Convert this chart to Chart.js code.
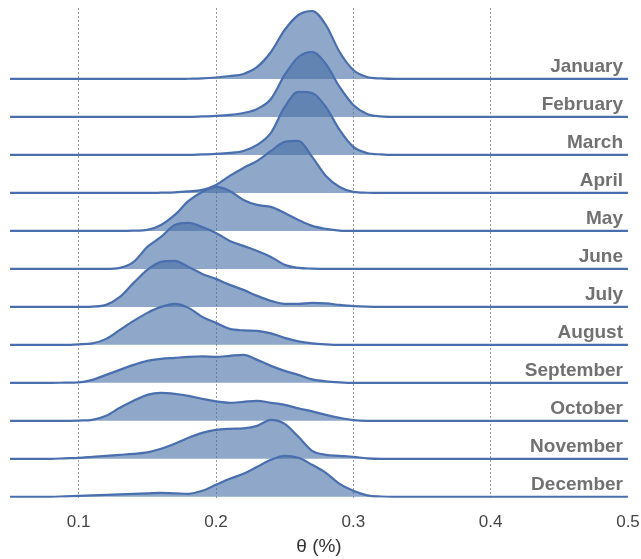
<!DOCTYPE html>
<html>
<head>
<meta charset="utf-8">
<script src="https://cdn.jsdelivr.net/npm/chart.js@4.4.1/dist/chart.umd.min.js"></script>
<style>
  html, body { margin: 0; padding: 0; background: #fff; }
  #wrap { width: 641px; height: 559px; }
</style>
</head>
<body>
<div id="wrap"><canvas id="chart" width="641" height="559"></canvas></div>
<script>
const months = ['January', 'February', 'March', 'April', 'May', 'June',
  'July', 'August', 'September', 'October', 'November', 'December'];

// theta values where the densities are read
const xValues = [0.05, 0.06, 0.07, 0.08, 0.09, 0.10, 0.11, 0.12, 0.13, 0.14,
  0.15, 0.16, 0.17, 0.18, 0.19, 0.20, 0.21, 0.22, 0.23, 0.24,
  0.25, 0.26, 0.27, 0.28, 0.29, 0.30, 0.31, 0.32, 0.33, 0.34,
  0.35, 0.36, 0.37, 0.50];
const xTicks = [0.1, 0.2, 0.3, 0.4, 0.5];

// density per month (same order as xValues)
const january   = [0,0,0,0,0, 0,0,0,0,0, 0,0,0,0.2,0.5, 1.5,3,5,12,27, 49,64,68,54,27, 9,2,0.5,0,0, 0,0,0,0];
const february  = [0,0,0,0,0, 0,0,0,0,0, 0,0,0,0,0.5, 1,2,4,8,18, 42,60,65,53,30, 12,3,0.5,0,0, 0,0,0,0];
const march     = [0,0,0,0,0, 0,0,0,0,0, 0,0,0,0,0.5, 1,2,4,10,22, 48,63,62,48,25, 8,2,0.5,0,0, 0,0,0,0];
const april     = [0,0,0,0,0, 0,0,0,0,0, 0,0.2,0.5,1.5,3, 8,17,25,32,42, 51,52,36,17,6, 1,0.2,0,0,0, 0,0,0,0];
const may       = [0,0,0,0,0, 0,0,0,0,0.2, 1,6,16,30,39, 44,40,31,26,24, 18,11,5,2,0.3, 0,0,0,0,0, 0,0,0,0];
const june      = [0,0,0,0,0, 0,0,0,1,7, 22,32,44,46,42, 36,28,23,18,12, 4,1,0.3,0,0, 0,0,0,0,0, 0,0,0,0];
const july      = [0,0,0,0,0, 0,0.3,2,10,24, 37,45,46,40,33, 28,22,17,11,6, 3,3,4,3.5,2, 0.8,0.2,0,0,0, 0,0,0,0];
const august    = [0,0,0,0,0, 0.5,1.5,6,15,24, 32,38,41,37,28, 22,16,14.5,14,11.5, 7,3.5,1.5,0.5,0, 0,0,0,0,0, 0,0,0,0];
const september = [0,0,0,0,0.2, 0.5,3,8,13,18, 22,24,25,26,26.5, 26,27,28,23,17, 12,8,3.5,1.5,0.5, 0,0,0,0,0, 0,0,0,0];
const october   = [0,0,0,0,0, 0.3,1,5,13,20, 26,28,27,25,22, 19.5,18,19,20,18, 16,12.5,9.5,6,3, 0.7,0,0,0,0, 0,0,0,0];
const november  = [0,0,0,0,0.5, 1,2,3,4,5, 6.5,10,15,21,26, 29,30,30.5,33,39, 35,22,8,4,3, 2,0.5,0,0,0, 0,0,0,0];
const december  = [0,0,0,0,0.5, 1,1.5,2,2.5,3, 3.5,4,3.5,3,6, 12,18,23,30,37, 41,39,32,24,13, 6,1.5,0.3,0,0, 0,0,0,0];

const densities = [january, february, march, april, may, june,
  july, august, september, october, november, december];

const rowGap = 38;
const lineColor = 'rgb(74, 111, 174)';
const fillColor = 'rgba(68, 108, 165, 0.6)';
const baseOf = i => (months.length - 1 - i) * rowGap;

Chart.defaults.font.family = '"Liberation Sans", Arial, sans-serif';

const datasets = months.map((m, i) => ({
  label: m,
  data: xValues.map((x, k) => ({ x: x, y: baseOf(i) + densities[i][k] })),
  borderColor: lineColor,
  borderWidth: 2.2,
  backgroundColor: fillColor,
  fill: { value: baseOf(i) },
  pointRadius: 0,
  cubicInterpolationMode: 'monotone',
  order: months.length - i   // lower ridges on top
}));

const monthLabels = {
  id: 'monthLabels',
  afterDatasetsDraw(chart) {
    const { ctx, chartArea, scales } = chart;
    ctx.save();
    ctx.font = 'bold 19px "Liberation Sans", Arial, sans-serif';
    ctx.fillStyle = '#717171';
    ctx.textAlign = 'right';
    ctx.textBaseline = 'alphabetic';
    months.forEach((m, i) => {
      ctx.fillText(m, chartArea.right - 5, scales.y.getPixelForValue(baseOf(i)) - 7);
    });
    ctx.restore();
  }
};

new Chart(document.getElementById('chart'), {
  type: 'line',
  data: { datasets },
  plugins: [monthLabels],
  options: {
    responsive: false,
    animation: false,
    layout: { padding: { left: 10, right: 13, top: 8, bottom: 1 } },
    plugins: {
      legend: { display: false },
      tooltip: { enabled: false }
    },
    scales: {
      x: {
        type: 'linear',
        min: 0.05,
        max: 0.5,
        afterBuildTicks: axis => { axis.ticks = xTicks.map(v => ({ value: v })); },
        grid: {
          color: c => (c.tick && c.tick.value === 0.5) ? 'rgba(0,0,0,0)' : 'rgba(0,0,0,0.4)',
          lineWidth: 1,
          drawTicks: true,
          tickLength: 13,
          tickColor: 'rgba(0,0,0,0)'
        },
        border: { display: false, dash: [2, 2] },
        ticks: {
          padding: 1,
          color: '#444',
          font: { size: 17 },
          callback: v => v.toFixed(1)
        },
        title: {
          display: true,
          text: 'θ (%)',
          color: '#333',
          font: { size: 19 },
          padding: { top: 2, bottom: 0 }
        }
      },
      y: { display: false, min: -1, max: 489 }
    }
  }
});
</script>
</body>
</html>
